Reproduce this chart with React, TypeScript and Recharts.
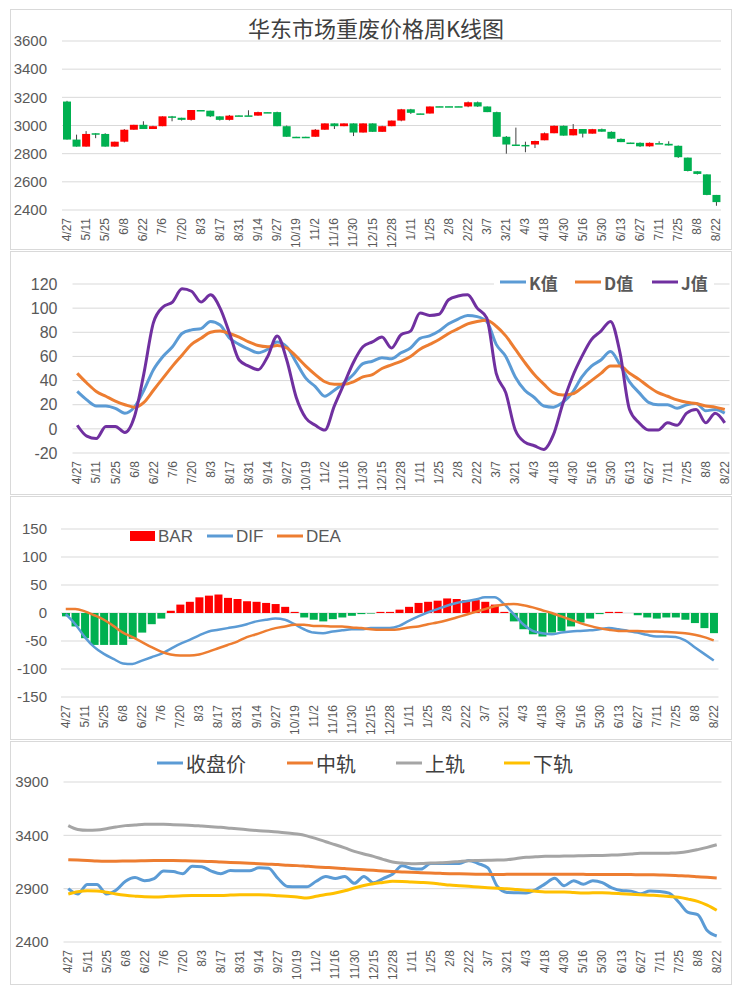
import React from 'react';
import { ComposedChart, Bar, Line, XAxis, YAxis, CartesianGrid, Cell } from 'recharts';

// weekly dates, every other one is labelled on the axis
const dates = [
  '4/27', '5/4', '5/11', '5/18', '5/25', '6/1', '6/8', '6/15', '6/22', '6/29',
  '7/6', '7/13', '7/20', '7/27', '8/3', '8/10', '8/17', '8/24', '8/31', '9/7',
  '9/14', '9/21', '9/27', '10/12', '10/19', '10/26', '11/2', '11/9', '11/16', '11/23',
  '11/30', '12/7', '12/15', '12/21', '12/28', '1/4', '1/11', '1/18', '1/25', '2/1',
  '2/8', '2/15', '2/22', '3/1', '3/7', '3/14', '3/21', '3/28', '4/3', '4/11',
  '4/18', '4/25', '4/30', '5/9', '5/16', '5/23', '5/30', '6/6', '6/13', '6/20',
  '6/27', '7/4', '7/11', '7/18', '7/25', '8/1', '8/8', '8/15', '8/22',
];

const openPrices = [
  3170, 2900, 2850, 2945, 2940, 2850, 2885, 2970, 3005, 2975,
  2995, 3065, 3055, 3040, 3110, 3105, 3065, 3040, 3072, 3072,
  3070, 3095, 3095, 2995, 2920, 2920, 2920, 2970, 3015, 2995,
  3015, 2950, 3015, 2955, 2995, 3035, 3115, 3086, 3085, 3137,
  3137, 3137, 3135, 3165, 3135, 3095, 2920, 2865, 2862, 2865,
  2895, 2945, 2998, 2930, 2975, 2942, 2974, 2955, 2905, 2879,
  2877, 2852, 2875, 2870, 2856, 2772, 2675, 2653, 2507,
];
const closePrices = [
  2900, 2850, 2940, 2940, 2850, 2885, 2970, 3005, 2975, 2995,
  3065, 3060, 3040, 3110, 3105, 3065, 3040, 3070, 3068, 3068,
  3095, 3092, 2995, 2920, 2917, 2917, 2970, 3015, 2995, 3015,
  2950, 3015, 2955, 2995, 3035, 3115, 3090, 3084, 3135, 3135,
  3135, 3135, 3165, 3135, 3095, 2920, 2865, 2862, 2860, 2890,
  2945, 2998, 2928, 2975, 2942, 2974, 2956, 2907, 2882, 2877,
  2852, 2877, 2873, 2858, 2775, 2677, 2656, 2507, 2456,
];
const highPrices = [
  3175, 2935, 2960, 2945, 2945, 2885, 2975, 3005, 3030, 2998,
  3065, 3068, 3055, 3110, 3110, 3105, 3065, 3075, 3072, 3108,
  3098, 3095, 3098, 3000, 2920, 2920, 2975, 3015, 3015, 3015,
  3015, 3015, 3015, 2998, 3035, 3118, 3118, 3086, 3135, 3137,
  3137, 3137, 3170, 3170, 3135, 3098, 2925, 2985, 2885, 2892,
  2950, 3000, 3000, 3010, 2975, 2976, 2978, 2958, 2908, 2879,
  2880, 2880, 2888, 2888, 2858, 2772, 2675, 2653, 2507,
];
const lowPrices = [
  2900, 2850, 2850, 2910, 2850, 2850, 2880, 2970, 2975, 2975,
  2995, 3030, 3035, 3035, 3105, 3060, 3035, 3035, 3068, 3068,
  3070, 3092, 2995, 2920, 2917, 2917, 2920, 2970, 2975, 2995,
  2925, 2950, 2955, 2955, 2995, 3030, 3082, 3084, 3085, 3135,
  3135, 3135, 3130, 3132, 3095, 2920, 2800, 2862, 2810, 2840,
  2895, 2945, 2928, 2930, 2915, 2942, 2956, 2907, 2882, 2877,
  2848, 2850, 2873, 2858, 2770, 2674, 2652, 2505, 2430,
];

const kValues = [
  31, 24, 19, 19, 17, 13, 18, 32, 49, 60,
  68, 79, 82, 83, 89, 86, 75, 70, 66, 63,
  66, 72, 68, 55, 42, 35, 27, 32, 38, 45,
  54, 56, 59, 58, 63, 67, 75, 77, 81, 87,
  91, 94, 93, 89, 70, 60, 43, 32, 26, 19,
  18, 22, 30, 43, 52, 57, 64, 53, 39, 30,
  22, 20, 20, 17, 20, 21, 15, 16, 13,
];
const dValues = [
  46, 38, 31, 27, 23, 20, 18, 22, 32, 42,
  52, 61, 70, 75, 80, 81, 79, 76, 72, 69,
  68, 69, 67, 60, 52, 45, 39, 37, 37, 39,
  43, 45, 50, 53, 56, 60, 66, 70, 74, 79,
  83, 87, 89, 90, 85, 77, 66, 55, 45, 37,
  30, 28, 29, 34, 40, 46, 52, 52, 46, 41,
  35, 30, 27, 24, 22, 21, 19, 18, 16,
];
const jValues = [
  3, -6, -8, 2, 2, -3, 10, 46, 88, 101,
  105, 116, 114, 105, 111, 100, 79, 57, 52, 49,
  60, 77, 57, 26, 9, 3, -1, 19, 37, 55,
  68, 72, 76, 67, 78, 81, 96, 94, 95, 107,
  110, 111, 100, 92, 46, 30, -1, -11, -14, -17,
  -5, 21, 43, 60, 74, 81, 89, 63, 16, 5,
  -1, -1, 5, 3, 13, 16, 5, 13, 5,
];

const macdBars = [
  -6, -24, -45, -57, -57, -57, -57, -46, -35, -20,
  -10, 4, 15, 20, 28, 31, 33, 27, 25, 21,
  20, 18, 16, 11, 2, -8, -12, -15, -11, -8,
  -5, -2, -1, 2, 2, 6, 11, 18, 20, 22,
  26, 25, 23, 23, 20, 15, 2, -15, -29, -38,
  -42, -35, -32, -24, -17, -10, -2, 2, 2, 0,
  -4, -8, -10, -8, -8, -12, -18, -27, -36,
];
const difValues = [
  -2, -20, -43, -61, -73, -82, -90, -91, -85, -79,
  -73, -64, -55, -48, -40, -33, -30, -27, -24, -20,
  -15, -12, -10, -12, -20, -29, -35, -36, -33, -31,
  -29, -29, -27, -27, -27, -23, -14, -6, 1, 7,
  13, 18, 21, 24, 28, 28, 16, -2, -20, -32,
  -36, -38, -35, -33, -32, -31, -29, -27, -29, -32,
  -35, -39, -42, -42, -43, -49, -61, -73, -85,
];
const deaValues = [
  7, 7, 3, -4, -12, -23, -35, -43, -52, -61,
  -69, -74, -76, -76, -74, -69, -63, -57, -51, -43,
  -38, -32, -27, -24, -21, -21, -23, -23, -24, -24,
  -26, -27, -29, -30, -30, -29, -26, -24, -20, -17,
  -13, -8, -3, 2, 7, 12, 15, 16, 14, 10,
  5, 0, -6, -12, -18, -23, -27, -30, -32, -32,
  -32, -33, -33, -34, -35, -36, -39, -43, -49,
];

const upperBand = [
  3491, 3455, 3447, 3450, 3462, 3478, 3491, 3497, 3503, 3505,
  3503, 3500, 3497, 3493, 3487, 3481, 3475, 3467, 3459, 3451,
  3444, 3438, 3431, 3422, 3412, 3395, 3369, 3340, 3312, 3282,
  3250, 3225, 3203, 3175, 3150, 3140, 3134, 3136, 3140, 3143,
  3147, 3155, 3162, 3164, 3166, 3168, 3172, 3183, 3194, 3199,
  3203, 3204, 3206, 3207, 3209, 3210, 3212, 3215, 3219, 3225,
  3231, 3231, 3231, 3233, 3237, 3248, 3266, 3287, 3312,
];
const midBand = [
  3172, 3168, 3165, 3160, 3158, 3158, 3159, 3160, 3162, 3163,
  3163, 3163, 3162, 3160, 3158, 3155, 3150, 3146, 3142, 3138,
  3134, 3130, 3126, 3120, 3116, 3110, 3104, 3099, 3094, 3088,
  3082, 3077, 3072, 3066, 3061, 3057, 3053, 3050, 3047, 3044,
  3041, 3039, 3037, 3035, 3034, 3033, 3034, 3035, 3034, 3034,
  3035, 3034, 3034, 3035, 3034, 3033, 3033, 3033, 3033, 3032,
  3031, 3030, 3028, 3026, 3022, 3018, 3012, 3006, 3000,
];
const lowerBand = [
  2850, 2872, 2881, 2878, 2866, 2850, 2838, 2830, 2824, 2823,
  2825, 2830, 2834, 2836, 2837, 2837, 2837, 2840, 2844, 2844,
  2844, 2840, 2834, 2828, 2822, 2812, 2828, 2845, 2859, 2880,
  2906, 2930, 2947, 2958, 2969, 2967, 2962, 2958, 2953, 2944,
  2934, 2928, 2922, 2915, 2909, 2904, 2900, 2892, 2884, 2876,
  2869, 2869, 2869, 2864, 2859, 2861, 2862, 2858, 2853, 2848,
  2844, 2839, 2834, 2827, 2819, 2802, 2781, 2745, 2697,
];

const priceTicks = [2400, 2600, 2800, 3000, 3200, 3400, 3600];
const kdjTicks = [-20, 0, 20, 40, 60, 80, 100, 120];
const macdTicks = [-150, -100, -50, 0, 50, 100, 150];
const bollTicks = [2400, 2900, 3400, 3900];

const RED = '#ff0000';
const GREEN = '#00b050';
const BLUE = '#5b9bd5';
const ORANGE = '#ed7d31';
const PURPLE = '#7030a0';
const GREY = '#a5a5a5';
const YELLOW = '#ffc000';
const GRID = '#d9d9d9';
const AXIS_TEXT = '#595959';
const FONT = '"Liberation Sans", Arial, sans-serif';
const CJK = '"Noto Sans CJK SC", "Noto Sans", sans-serif';

const candleData = dates.map((date, i) => ({
  date,
  open: openPrices[i],
  close: closePrices[i],
  high: highPrices[i],
  low: lowPrices[i],
  range: [lowPrices[i], highPrices[i]],
}));
const kdjData = dates.map((date, i) => ({ date, k: kValues[i], d: dValues[i], j: jValues[i] }));
const macdData = dates.map((date, i) => ({ date, bar: macdBars[i], dif: difValues[i], dea: deaValues[i] }));
const bollData = dates.map((date, i) => ({
  date,
  close: closePrices[i],
  mid: midBand[i],
  upper: upperBand[i],
  lower: lowerBand[i],
}));

// wick spans low..high (library-scaled), body placed inside it by ratio
const CandleShape = (props: any) => {
  const { x, y, width, height, payload } = props;
  if (!payload) return null;
  const top = Math.min(y, y + height);
  const h = Math.abs(height);
  const span = payload.high - payload.low;
  const ratio = span > 0 ? h / span : 0;
  const toY = (v: number) => top + (payload.high - v) * ratio;
  const bodyTop = toY(Math.max(payload.open, payload.close));
  const bodyBottom = toY(Math.min(payload.open, payload.close));
  const cx = x + width / 2;
  const color = payload.close >= payload.open ? RED : GREEN;
  return (
    <g>
      <line x1={cx} x2={cx} y1={top} y2={top + h} stroke="#404040" strokeWidth={1} />
      <rect x={x} y={bodyTop} width={width} height={Math.max(bodyBottom - bodyTop, 1.5)} fill={color} />
    </g>
  );
};

const DateTick = (props: any) => {
  const { x, y, payload } = props;
  return (
    <text
      x={x}
      y={y}
      transform={`rotate(-90 ${x} ${y})`}
      textAnchor="end"
      dy="0.35em"
      fontSize={12}
      fontFamily={FONT}
      fill={AXIS_TEXT}
    >
      {payload.value}
    </text>
  );
};

const yTick = { fill: AXIS_TEXT, fontSize: 15, fontFamily: FONT };

const dateAxis = (height: number) => (
  <XAxis
    dataKey="date"
    scale="band"
    interval={1}
    tick={<DateTick />}
    tickLine={false}
    axisLine={false}
    tickSize={0}
    tickMargin={8}
    height={height}
  />
);

const PriceChart = () => (
  <ComposedChart width={721} height={244} data={candleData} margin={{ top: 32, right: 10, bottom: 4, left: 0 }}>
    <CartesianGrid vertical={false} stroke={GRID} />
    {dateAxis(39)}
    <YAxis
      domain={[2400, 3600]}
      ticks={priceTicks}
      width={52}
      tick={yTick}
      tickLine={false}
      axisLine={false}
      tickSize={0}
      tickMargin={15}
    />
    <Bar dataKey="range" barSize={8} shape={<CandleShape />} isAnimationActive={false} />
  </ComposedChart>
);

const KdjChart = () => (
  <ComposedChart width={721} height={243} data={kdjData} margin={{ top: 33, right: 1.5, bottom: 0, left: 0 }}>
    <CartesianGrid vertical={false} stroke={GRID} />
    {dateAxis(41)}
    <YAxis
      domain={[-20, 120]}
      ticks={kdjTicks}
      width={62.5}
      tick={{ ...yTick, fontSize: 16 }}
      tickLine={false}
      axisLine={false}
      tickSize={0}
      tickMargin={15}
    />
    <Line type="monotone" dataKey="k" stroke={BLUE} strokeWidth={3} dot={false} isAnimationActive={false} />
    <Line type="monotone" dataKey="d" stroke={ORANGE} strokeWidth={3} dot={false} isAnimationActive={false} />
    <Line type="monotone" dataKey="j" stroke={PURPLE} strokeWidth={3} dot={false} isAnimationActive={false} />
  </ComposedChart>
);

const MacdChart = () => (
  <ComposedChart width={721} height={243} data={macdData} margin={{ top: 33, right: 12.5, bottom: 0, left: 0 }}>
    <CartesianGrid vertical={false} stroke={GRID} />
    {dateAxis(42)}
    <YAxis
      domain={[-150, 150]}
      ticks={macdTicks}
      width={51}
      tick={yTick}
      tickLine={false}
      axisLine={false}
      tickSize={0}
      tickMargin={14}
    />
    <Bar dataKey="bar" barSize={8} isAnimationActive={false}>
      {macdData.map((row, i) => (
        <Cell key={i} fill={row.bar >= 0 ? RED : GREEN} />
      ))}
    </Bar>
    <Line type="monotone" dataKey="dif" stroke={BLUE} strokeWidth={2.5} dot={false} isAnimationActive={false} />
    <Line type="monotone" dataKey="dea" stroke={ORANGE} strokeWidth={2.5} dot={false} isAnimationActive={false} />
  </ComposedChart>
);

const BollChart = () => (
  <ComposedChart width={721} height={243} data={bollData} margin={{ top: 41, right: 9.5, bottom: 0, left: 0 }}>
    <CartesianGrid vertical={false} stroke={GRID} />
    {dateAxis(42)}
    <YAxis
      domain={[2400, 3900]}
      ticks={bollTicks}
      width={53.5}
      tick={yTick}
      tickLine={false}
      axisLine={false}
      tickSize={0}
      tickMargin={15}
    />
    <Line type="monotone" dataKey="close" stroke={BLUE} strokeWidth={3} dot={false} isAnimationActive={false} />
    <Line type="monotone" dataKey="mid" stroke={ORANGE} strokeWidth={3} dot={false} isAnimationActive={false} />
    <Line type="monotone" dataKey="upper" stroke={GREY} strokeWidth={3} dot={false} isAnimationActive={false} />
    <Line type="monotone" dataKey="lower" stroke={YELLOW} strokeWidth={3} dot={false} isAnimationActive={false} />
  </ComposedChart>
);

// legend swatch: a short line followed by its label
const LineKey = ({ x, y, color, label, size, bold, family, fill }: any) => (
  <g>
    <line x1={x} x2={x + 26} y1={y} y2={y} stroke={color} strokeWidth={3} />
    <text
      x={x + 29}
      y={y}
      dominantBaseline="central"
      fontSize={size}
      fontWeight={bold ? 'bold' : 'normal'}
      fontFamily={family}
      fill={fill}
    >
      {label}
    </text>
  </g>
);

const frames = [
  { top: 9, height: 241 },
  { top: 251, height: 244 },
  { top: 496, height: 244 },
  { top: 741, height: 244 },
];

export default function App() {
  return (
    <div style={{ position: 'absolute', left: 0, top: 0, width: 739, height: 996, background: '#fff' }}>
      {frames.map((f, i) => (
        <div
          key={i}
          style={{
            position: 'absolute',
            left: 10,
            top: f.top,
            width: 722,
            height: f.height,
            border: `1px solid ${GRID}`,
            boxSizing: 'border-box',
          }}
        />
      ))}
      <div style={{ position: 'absolute', left: 10, top: 9 }}>
        <PriceChart />
      </div>
      <div style={{ position: 'absolute', left: 10, top: 251 }}>
        <KdjChart />
      </div>
      <div style={{ position: 'absolute', left: 10, top: 496 }}>
        <MacdChart />
      </div>
      <div style={{ position: 'absolute', left: 10, top: 741 }}>
        <BollChart />
      </div>
      <svg width={739} height={996} style={{ position: 'absolute', left: 0, top: 0, pointerEvents: 'none' }}>
        <text x={376} y={27} textAnchor="middle" dominantBaseline="central" fontSize={22} fontFamily={CJK} fill="#404040">
          华东市场重废价格周K线图
        </text>

        <rect x={494} y={271} width={220} height={22} fill="#fff" />
        <LineKey x={500} y={282} color={BLUE} label="K值" size={17} bold family={CJK} fill={AXIS_TEXT} />
        <LineKey x={575} y={282} color={ORANGE} label="D值" size={17} bold family={CJK} fill={AXIS_TEXT} />
        <LineKey x={652} y={282} color={PURPLE} label="J值" size={17} bold family={CJK} fill={AXIS_TEXT} />

        <rect x={130} y={531} width={25} height={10} fill={RED} />
        <text x={158} y={536} dominantBaseline="central" fontSize={17} fontFamily={FONT} fill={AXIS_TEXT}>BAR</text>
        <LineKey x={207} y={536} color={BLUE} label="DIF" size={17} family={FONT} fill={AXIS_TEXT} />
        <LineKey x={277} y={536} color={ORANGE} label="DEA" size={17} family={FONT} fill={AXIS_TEXT} />

        <LineKey x={157} y={763} color={BLUE} label="收盘价" size={20} family={CJK} fill="#404040" />
        <LineKey x={287} y={763} color={ORANGE} label="中轨" size={20} family={CJK} fill="#404040" />
        <LineKey x={396} y={763} color={GREY} label="上轨" size={20} family={CJK} fill="#404040" />
        <LineKey x={504} y={763} color={YELLOW} label="下轨" size={20} family={CJK} fill="#404040" />
      </svg>
    </div>
  );
}
